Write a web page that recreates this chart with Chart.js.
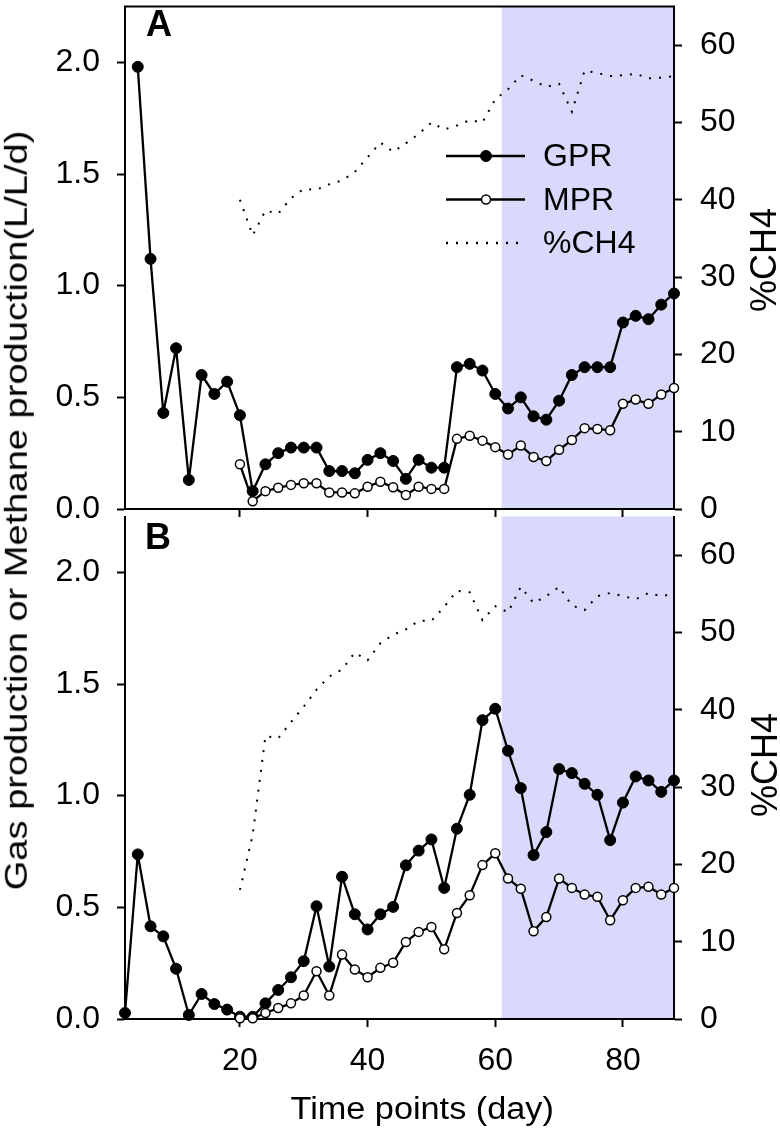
<!DOCTYPE html>
<html>
<head>
<meta charset="utf-8">
<script src="https://cdn.jsdelivr.net/npm/chart.js@4.4.1/dist/chart.umd.min.js"></script>
<style>
  html, body { margin: 0; padding: 0; background: #fff; }
  #wrap { position: relative; width: 780px; height: 1130px; overflow: hidden; font-family: 'Liberation Sans', Arial, sans-serif; }
  .cv { position: absolute; left: 0; }
  #boxA { top: 0; }
  #boxB { top: 510px; }
  .txt { position: absolute; white-space: nowrap; line-height: 1; color: #000; }
</style>
</head>
<body>
<div id="wrap">
  <div class="cv" id="boxB"><canvas id="chartB" width="780" height="620"></canvas></div>
  <div class="cv" id="boxA"><canvas id="chartA" width="780" height="540"></canvas></div>
  <div class="txt" id="yTitle" style="font-size:31px">Gas production or Methane production(L/L/d)</div>
  <div class="txt" id="xTitle" style="font-size:31px">Time points (day)</div>
  <div class="txt" id="rTitleA" style="font-size:36px">%CH4</div>
  <div class="txt" id="rTitleB" style="font-size:36px">%CH4</div>
  <div class="txt" id="panelA" style="font-size:36px;font-weight:bold">A</div>
  <div class="txt" id="panelB" style="font-size:36px;font-weight:bold">B</div>
</div>
<script>
const FONT = "'Liberation Sans', Arial, sans-serif";

// sampling days
const daysGprA = [4, 6, 8, 10, 12, 14, 16, 18, 20, 22, 24, 26, 28, 30, 32, 34, 36, 38, 40, 42, 44, 46,
  48, 50, 52, 54, 56, 58, 60, 62, 64, 66, 68, 70, 72, 74, 76, 78, 80, 82, 84, 86, 88];
const daysGprB = [2, 4, 6, 8, 10, 12, 14, 16, 18, 20, 22, 24, 26, 28, 30, 32, 34, 36, 38, 40, 42, 44, 46,
  48, 50, 52, 54, 56, 58, 60, 62, 64, 66, 68, 70, 72, 74, 76, 78, 80, 82, 84, 86, 88];
const daysLate = [20, 22, 24, 26, 28, 30, 32, 34, 36, 38, 40, 42, 44, 46, 48, 50, 52, 54, 56, 58, 60,
  62, 64, 66, 68, 70, 72, 74, 76, 78, 80, 82, 84, 86, 88];

// panel A
const gprA = [1.98, 1.12, 0.43, 0.72, 0.13, 0.60, 0.515, 0.57, 0.42, 0.08, 0.20, 0.25, 0.275, 0.275, 0.275,
  0.17, 0.17, 0.16, 0.22, 0.25, 0.215, 0.135, 0.22, 0.185, 0.185, 0.635, 0.65, 0.62, 0.515, 0.45, 0.50,
  0.415, 0.40, 0.485, 0.60, 0.635, 0.635, 0.635, 0.835, 0.865, 0.85, 0.915, 0.965];
const mprA = [0.20, 0.035, 0.08, 0.095, 0.108, 0.115, 0.115, 0.074, 0.074, 0.07, 0.10, 0.122, 0.097, 0.063,
  0.10, 0.09, 0.09, 0.314, 0.328, 0.306, 0.277, 0.244, 0.284, 0.233, 0.215, 0.265, 0.309, 0.362, 0.358,
  0.353, 0.471, 0.49, 0.471, 0.513, 0.542];
const ch4A = [40.0, 35.4, 38.6, 38.2, 40.2, 41.4, 41.3, 42.0, 42.5, 43.6, 45.5, 47.4, 46.2, 47.3, 48.5, 50.0,
  49.1, 49.6, 50.3, 50.0, 53.0, 54.3, 56.1, 55.4, 54.6, 55.0, 51.4, 56.7, 56.4, 56.0, 56.1, 56.3, 55.7, 55.8, 56.0];

// panel B
const gprB = [0.027, 0.737, 0.415, 0.37, 0.225, 0.018, 0.112, 0.067, 0.042, 0.01, 0.01, 0.07, 0.13, 0.187,
  0.259, 0.505, 0.235, 0.637, 0.469, 0.401, 0.469, 0.502, 0.688, 0.754, 0.804, 0.587, 0.852, 1.004, 1.338,
  1.389, 1.201, 1.034, 0.734, 0.837, 1.119, 1.101, 1.053, 1.004, 0.801, 0.969, 1.086, 1.068, 1.017, 1.068];
const mprB = [0.003, 0.003, 0.027, 0.049, 0.07, 0.105, 0.214, 0.105, 0.289, 0.222, 0.187, 0.229, 0.252, 0.345,
  0.39, 0.412, 0.312, 0.475, 0.554, 0.689, 0.742, 0.629, 0.583, 0.393, 0.457, 0.629, 0.587, 0.557, 0.547,
  0.442, 0.532, 0.587, 0.592, 0.557, 0.587];
const ch4B = [16.7, 23.8, 36.6, 36.3, 38.4, 40.4, 42.6, 44.3, 45.2, 47.4, 46.4, 48.6, 49.7, 50.4, 51.5, 51.5,
  53.3, 55.4, 55.2, 51.6, 53.4, 52.6, 55.9, 53.8, 54.7, 55.9, 53.5, 52.9, 54.7, 55.1, 54.7, 54.3, 55.1, 54.7, 55.0];

// axes
const xTicks = [20, 40, 60, 80];
const leftTicks = [0, 0.5, 1.0, 1.5, 2.0];
const rightTicks = [0, 10, 20, 30, 40, 50, 60];
const shadeDays = [61, 88];
const legendLabels = ['GPR', 'MPR', '%CH4'];

Chart.defaults.font.family = FONT;
Chart.defaults.color = '#000';

const pts = (days, vals) => days.map((d, i) => ({ x: d, y: vals[i] }));

const shadePlugin = {
  id: 'shade',
  beforeDraw(chart) {
    const { ctx, chartArea: a, scales: { x } } = chart;
    const x0 = x.getPixelForValue(shadeDays[0]);
    const x1 = x.getPixelForValue(shadeDays[1]);
    ctx.save();
    ctx.fillStyle = '#d9d9fb';
    ctx.fillRect(x0, a.top, x1 - x0, a.bottom - a.top);
    ctx.restore();
  }
};

const topLinePlugin = {
  id: 'topLine',
  afterDraw(chart) {
    const { ctx, chartArea: a } = chart;
    ctx.save();
    ctx.strokeStyle = '#000';
    ctx.lineWidth = 2;
    ctx.beginPath();
    ctx.moveTo(a.left - 1, a.top);
    ctx.lineTo(a.right + 1, a.top);
    ctx.stroke();
    ctx.restore();
  }
};

const keyPlugin = {
  id: 'seriesKey',
  afterDraw(chart) {
    const ctx = chart.ctx;
    const rowY = [156, 199.5, 243];
    const x0 = 446, x1 = 525, mx = 486;
    ctx.save();
    ctx.strokeStyle = '#000';
    rowY.forEach((y, i) => {
      ctx.lineWidth = 2.3;
      ctx.setLineDash(i === 2 ? [2, 8] : []);
      ctx.beginPath();
      ctx.moveTo(x0, y);
      ctx.lineTo(i === 2 ? 520 : x1, y);
      ctx.stroke();
      ctx.setLineDash([]);
      if (i < 2) {
        ctx.beginPath();
        ctx.arc(mx, y, i === 0 ? 5.5 : 4.5, 0, Math.PI * 2);
        ctx.fillStyle = i === 0 ? '#000' : '#fff';
        ctx.fill();
        ctx.lineWidth = i === 0 ? 1 : 1.5;
        ctx.stroke();
      }
      ctx.fillStyle = '#000';
      ctx.font = '32px ' + FONT;
      ctx.textBaseline = 'middle';
      ctx.fillText(legendLabels[i], 543, y + 1.5);
    });
    ctx.restore();
  }
};

function makeDatasets(gDays, gVals, mVals, cVals) {
  return [
    {
      label: 'GPR', data: pts(gDays, gVals), yAxisID: 'y', order: 2, clip: false,
      borderColor: '#000', borderWidth: 2.3, borderJoinStyle: 'round', tension: 0,
      pointRadius: 5.5, pointBackgroundColor: '#000', pointBorderColor: '#000', pointBorderWidth: 1
    },
    {
      label: 'MPR', data: pts(daysLate, mVals), yAxisID: 'y', order: 1, clip: false,
      borderColor: '#000', borderWidth: 2.3, borderJoinStyle: 'round', tension: 0,
      pointRadius: 4.5, pointBackgroundColor: '#fff', pointBorderColor: '#000', pointBorderWidth: 1.5
    },
    {
      label: '%CH4', data: pts(daysLate, cVals), yAxisID: 'y1', order: 3,
      borderColor: '#000', borderWidth: 2, borderDash: [2, 8], tension: 0, pointRadius: 0
    }
  ];
}

// fixed axis boxes so both panels line up with the reference
const noPad = s => { s.paddingTop = 0; s.paddingBottom = 0; s.paddingLeft = 0; s.paddingRight = 0; };

function makeOptions(showXLabels, xAxisHeight) {
  const tickGrid = { display: true, drawOnChartArea: false, drawTicks: true, tickLength: 8, tickWidth: 2, tickColor: '#000' };
  const border = { display: true, color: '#000', width: 2 };
  return {
    responsive: false,
    animation: false,
    events: [],
    layout: { padding: { top: 1, left: 0, right: 0, bottom: 0 } },
    plugins: { legend: { display: false }, tooltip: { enabled: false } },
    scales: {
      x: {
        type: 'linear', min: 2, max: 88,
        afterBuildTicks: s => { s.ticks = xTicks.map(v => ({ value: v })); },
        afterFit: s => { s.height = xAxisHeight; noPad(s); },
        grid: tickGrid, border,
        ticks: { display: showXLabels, padding: 15, font: { size: 32 }, maxRotation: 0 }
      },
      y: {
        position: 'left', min: 0, max: 2.25,
        afterBuildTicks: s => { s.ticks = leftTicks.map(v => ({ value: v })); },
        afterFit: s => { s.width = 125; noPad(s); },
        grid: tickGrid, border,
        ticks: { padding: 17, font: { size: 32 }, callback: v => v.toFixed(1) }
      },
      y1: {
        position: 'right', min: 0, max: 65,
        afterBuildTicks: s => { s.ticks = rightTicks.map(v => ({ value: v })); },
        afterFit: s => { s.width = 106; noPad(s); },
        grid: tickGrid, border,
        ticks: { padding: 18, font: { size: 32 }, callback: v => String(v) }
      }
    }
  };
}

new Chart(document.getElementById('chartA'), {
  type: 'line',
  data: { datasets: makeDatasets(daysGprA, gprA, mprA, ch4A) },
  options: makeOptions(false, 31),
  plugins: [shadePlugin, topLinePlugin, keyPlugin]
});

new Chart(document.getElementById('chartB'), {
  type: 'line',
  data: { datasets: makeDatasets(daysGprB, gprB, mprB, ch4B) },
  options: makeOptions(true, 111),
  plugins: [shadePlugin]
});

function placeText(id, cx, cy, length, angle) {
  const el = document.getElementById(id);
  const w = el.offsetWidth;
  const h = el.offsetHeight;
  const k = length ? length / w : 1;
  el.style.left = (cx - w / 2) + 'px';
  el.style.top = (cy - h / 2) + 'px';
  el.style.transform = 'rotate(' + angle + 'deg) scaleX(' + k + ')';
}

placeText('yTitle', 16, 510, 760, -90);
placeText('xTitle', 421.5, 1108.5, 263, 0);
placeText('rTitleA', 763.5, 260, 0, -90);
placeText('rTitleB', 765, 765, 0, -90);
placeText('panelA', 159, 23.5, 0, 0);
placeText('panelB', 158, 536.7, 0, 0);
</script>
</body>
</html>
